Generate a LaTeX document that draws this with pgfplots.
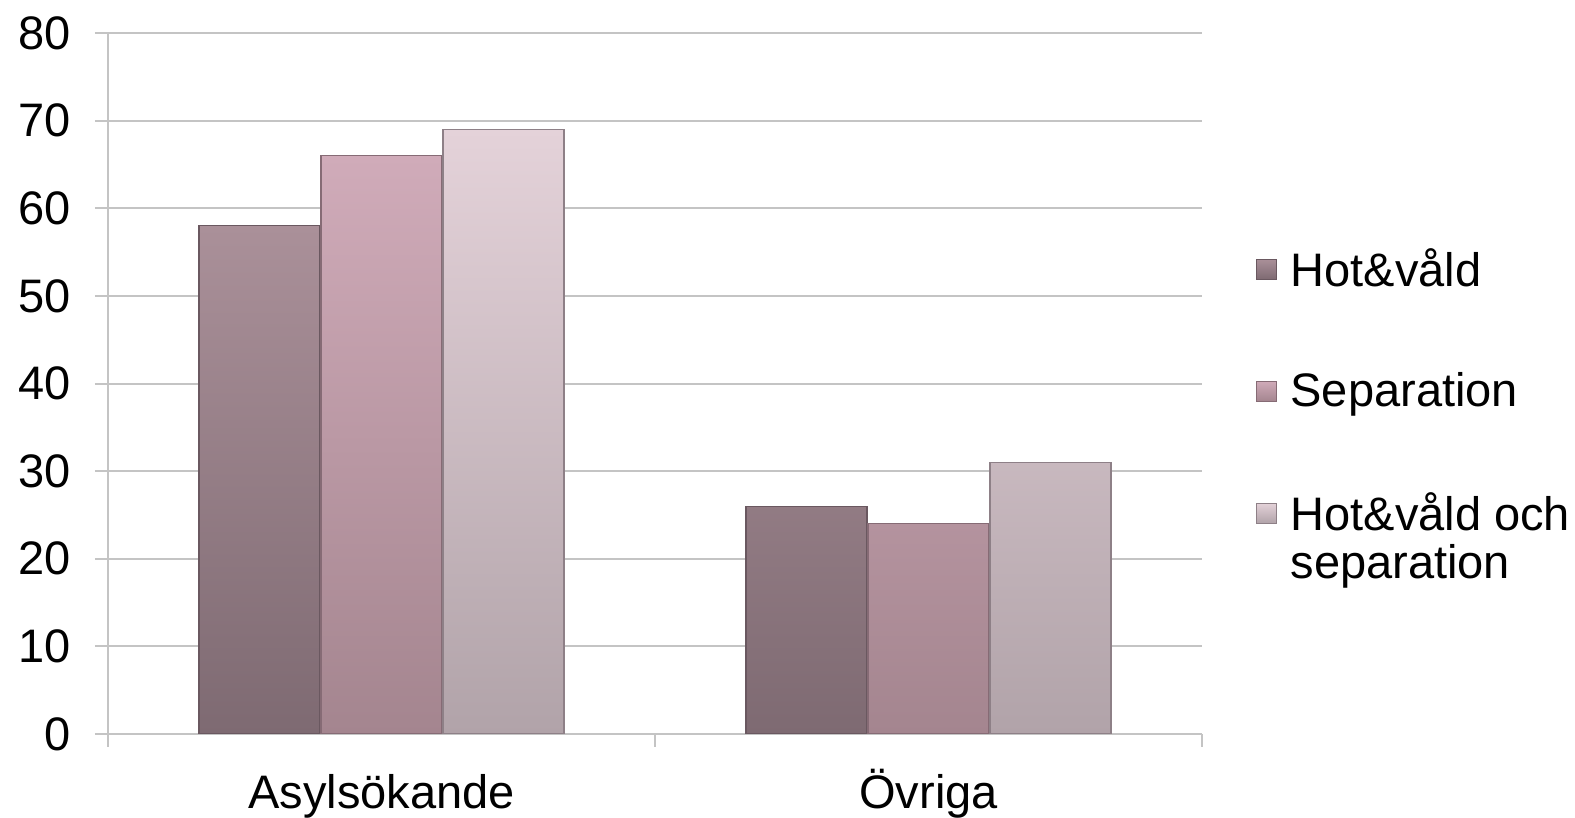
\documentclass[border=0pt]{standalone}
\usepackage{pgfplots}
\pgfplotsset{compat=1.18}
\usepackage{fontspec}
\setmainfont{Liberation Sans}
\definecolor{gridc}{HTML}{C4C4C4}
\definecolor{aT}{HTML}{AA9099}
\definecolor{aB}{HTML}{7E6A72}
\definecolor{aE}{HTML}{6A5860}
\definecolor{bT}{HTML}{D0ABB9}
\definecolor{bB}{HTML}{A4858F}
\definecolor{bE}{HTML}{866B75}
\definecolor{cT}{HTML}{E4D2D9}
\definecolor{cB}{HTML}{B1A3A9}
\definecolor{cE}{HTML}{8E8087}
\newcommand{\bigf}{\fontsize{23.5}{23.5}\selectfont}
\begin{document}
\begin{tikzpicture}
\useasboundingbox (-54pt,-42pt) rectangle (733.5pt,367pt);
\begin{axis}[
  scale only axis, width=547pt, height=350.5pt,
  xmin=-0.5, xmax=1.5, ymin=0, ymax=80,
  ytick={0,10,...,80},
  axis lines=left,
  axis line style={-, gridc, line width=1pt},
  ymajorgrids, grid style={gridc, line width=1pt},
  xtick={-0.5,0.5,1.5}, xticklabels={},
  extra x ticks={0,1},
  extra x tick labels={Asylsökande,Övriga},
  extra x tick style={major tick length=0pt, xticklabel style={anchor=base, yshift=-37.5pt}},
  tick align=outside, major tick length=6.5pt,
  tick style={gridc, line width=1pt},
  ticklabel style={font=\bigf, text=black},
  yticklabel style={xshift=-8.7pt},
  /pgf/number format/assume math mode=true,
  ybar=0.5pt, bar width=60.5pt,
  legend style={at={(1.049,0.698)}, anchor=north west, draw=none, fill=none,
    inner sep=0pt, outer sep=0pt, font=\bigf, row sep=37.5pt,
    /tikz/every odd column/.append style={column sep=5pt}},
  legend cell align=left,
  legend image code/.code={\draw[#1, line width=0.5pt] (0pt,-5pt) rectangle (10pt,5pt);},
]
\addplot[top color=aT, bottom color=aB, draw=aE, line width=0.6pt] coordinates {(0,58) (1,26)};
\addlegendentry{\strut Hot\&våld}
\addplot[top color=bT, bottom color=bB, draw=bE, line width=0.6pt] coordinates {(0,66) (1,24)};
\addlegendentry{\strut Separation}
\addplot[top color=cT, bottom color=cB, draw=cE, line width=0.6pt] coordinates {(0,69) (1,31)};
\addlegendentry{\begin{tabular}[t]{@{}l@{}}\strut Hot\&våld och\\separation\end{tabular}}
\end{axis}
\end{tikzpicture}
\end{document}
